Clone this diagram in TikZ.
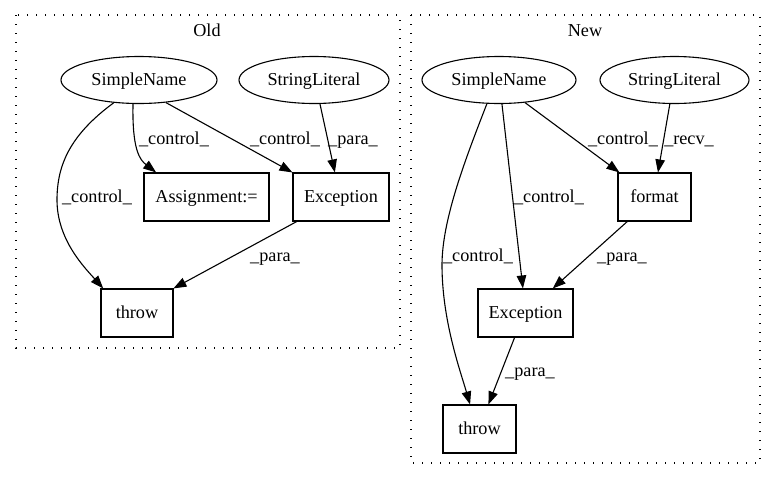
\documentclass[tikz,border=0pt]{standalone}
\usepackage{fontspec}
\setmainfont{Liberation Serif}
\usetikzlibrary{arrows.meta,shapes.geometric}
\begin{document}
\begin{tikzpicture}[x=1pt,y=-1pt,
  every node/.style={font=\fontsize{18.2}{20}\selectfont, text height=13pt, text depth=3pt, inner sep=0pt},
  ell/.style={draw, ellipse, line width=1.1pt, minimum height=47pt},
  box/.style={draw, rectangle, line width=1.1pt, minimum height=48pt},
  lbl/.style={},
  edge/.style={line width=1.1pt, -{Triangle[length=13pt,width=9.5pt]}},
  clus/.style={line width=1.2pt, dash pattern=on 1.4pt off 7.6pt}]
\useasboundingbox (0,0) rectangle (776,480);
% clusters
\draw[clus] (16,15) rectangle (400,348);
\draw[clus] (411,15) rectangle (760,463);
\node (toldt) at (207,31) {Old};
\node (tnew) at (585,31) {New};
% Old nodes
\node[ell, minimum width=156pt] (osn) at (139,80) {SimpleName};
\node[ell, minimum width=150pt] (osl) at (314,80) {StringLiteral};
\node[box, minimum width=125pt] (oasg) at (206.5,197) {Assignment:=};
\node[box, minimum width=96pt] (oexc) at (341,197) {Exception};
\node[box, minimum width=72pt] (othrow) at (137,313) {throw};
% New nodes
\node[ell, minimum width=154pt] (nsn) at (499,80) {SimpleName};
\node[ell, minimum width=149pt] (nsl) at (674.5,80) {StringLiteral};
\node[box, minimum width=73pt] (nfmt) at (654.5,197) {format};
\node[box, minimum width=95pt] (nexc) at (525.5,313) {Exception};
\node[box, minimum width=73pt] (nthrow) at (479.5,429) {throw};
% Old edges
\draw[edge] (osn.222) .. controls (70,135) and (57,165) .. (57,200) .. controls (57,240) and (85,268) .. (othrow.144);
\draw[edge] (osn.256) .. controls (132,150) and (140,160) .. (oasg.154);
\draw[edge] (osn.320) -- (oexc.north west);
\draw[edge] (osl.284) -- (oexc.104);
\draw[edge] (oexc.209) -- (othrow.34);
% Old labels
\node[lbl] (l1) at (97,197) {\_control\_};
\node[lbl] (l2) at (174,139) {\_control\_};
\node[lbl] (l3) at (285,139) {\_control\_};
\node[lbl] (l4) at (353,139) {\_para\_};
\node[lbl] (l5) at (275,256) {\_para\_};
% New edges
\draw[edge] (nsn.243) .. controls (465,160) and (442,220) .. (442,265) .. controls (442,320) and (460,370) .. (nthrow.111);
\draw[edge] (nsn.277) -- (nexc.96);
\draw[edge] (nsn.319) -- (nfmt.145);
\draw[edge] (nsl.259) -- (nfmt.82);
\draw[edge] (nfmt.222) -- (nexc.42);
\draw[edge] (nexc.246) -- (nthrow.70);
% New labels
\node[lbl] (m1) at (623,139) {\_control\_};
\node[lbl] (m2) at (689,139) {\_recv\_};
\node[lbl] (m3) at (549,197) {\_control\_};
\node[lbl] (m4) at (478,256) {\_control\_};
\node[lbl] (m5) at (622,256) {\_para\_};
\node[lbl] (m6) at (530,371) {\_para\_};
\end{tikzpicture}
\end{document}
